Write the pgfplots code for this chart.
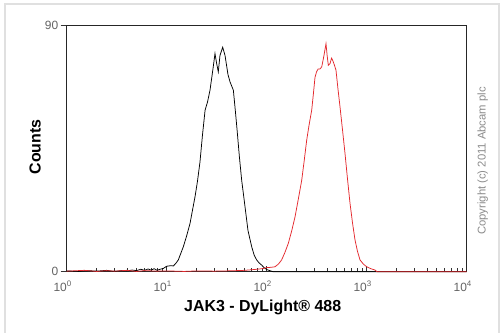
\documentclass[border=0pt]{standalone}
\usepackage{fontspec}
\setmainfont{Liberation Sans}
\usepackage{pgfplots}
\pgfplotsset{compat=1.18}
\definecolor{tickgray}{RGB}{100,100,100}
\definecolor{curvered}{RGB}{228,40,45}
\definecolor{copygray}{RGB}{140,140,140}
\begin{document}
\begin{tikzpicture}[x=1bp,y=1bp]
\fill[white] (0,0) rectangle (504,333);
\draw[black!12, line width=1.5bp] (5,0) -- (5,329) -- (499,329) -- (499,0);
\begin{axis}[
  at={(66.7bp,61.3bp)}, anchor=south west,
  scale only axis, width=400bp, height=246.4bp,
  xmode=log, xmin=1, xmax=10000, ymin=0, ymax=90,
  xtick={1,10,100,1000,10000},
  xticklabels={10\textsuperscript{0},10\textsuperscript{1},10\textsuperscript{2},10\textsuperscript{3},10\textsuperscript{4}},
  ytick={0,90},
  /pgf/number format/assume math mode=true,
  axis line style={line width=1.2bp, black!85},
  xtick pos=bottom, ytick pos=left,
  xtick align=inside, ytick align=outside,
  major tick length=6bp, minor tick length=3.5bp,
  every tick/.style={black!80, line width=0.8bp},
  tick label style={font=\fontsize{12}{12}\selectfont, text=tickgray},
  x tick label style={xshift=-4bp, yshift=-6bp},
  y tick label style={xshift=1bp},
  xlabel={JAK3 - DyLight® 488},
  ylabel={Counts},
  label style={font=\bfseries\fontsize{16}{16}\selectfont},
  xlabel style={at={(axis description cs:0.49,-0.143)}, anchor=center},
  ylabel style={at={(axis description cs:-0.079,0.506)}, anchor=center},
  clip=false,
]
\addplot[black, line width=0.75bp] coordinates {
(1,0.3) (1.3,0.1) (1.6,0.4) (2,0.2) (2.5,0.5) (3,0.1) (3.5,0.4) (4,0.3) (4.5,0.6)
(5,0.4) (5.5,0.9) (6,0.5) (6.5,1.0) (7,0.6) (7.5,1.1) (8,0.5) (8.6,0.9)
(9.25,1.2) (10,2.0) (11,2.2) (11.65,2.1) (12.3,3.0) (13.06,4.3) (14.66,9.1)
(15.8,13) (17.1,17.6) (19.2,27.4) (20.3,33) (21.5,40) (22.8,50) (24.2,59)
(25.6,62) (27.1,66.3) (29.0,74) (30.4,79.7) (31.6,76) (32.8,73) (34.1,79)
(35.2,80.5) (36.3,82) (38.3,79) (41.0,72) (43.0,69.3) (46.4,66.3) (48.5,59)
(50.5,52) (53.3,42) (56.2,33.4) (60.7,23.7) (65.0,15) (70.8,9.1) (75,6)
(79.4,4.3) (84,3.2) (89.1,2.4) (94,1.5) (100,0.8) (107,0.4) (115.6,0)
(10000,0)
};
\addplot[curvered, line width=0.75bp] coordinates {
(1,0.2) (1.5,0.5) (2,0.1) (2.5,0.4) (3,0.2) (4,0.5) (5,0.1) (6,0.4) (8,0.2)
(10,0.3) (15,0.1) (20,0.3) (30,0.2) (40,0.3) (50,0.4) (60,0.5) (70,0.7)
(80,0.9) (90,1.1) (100,1.5) (110,1.6) (121,1.8) (131,2.8) (141,4.3)
(152,7) (164.6,10.4) (178,15) (191.9,20) (207,26.5) (223.9,33.4) (237,40.5)
(251,48) (265,53.5) (281.8,59) (293,65) (304,71) (315,73) (326,74)
(340,74) (354.8,74.8) (374,79) (391.6,83.3) (402,79) (413,75.4) (429.5,76)
(445,78) (457,77.2) (475,75.5) (493,73.6) (515,67) (540.8,60.2) (572,52)
(606.7,43.2) (642,34) (680.8,25) (720,18) (763.9,11.6) (808,7.5) (857,4.3)
(925,2.8) (1000,1.8) (1100,1.1) (1211,0.6) (1268,0) (10000,0)
};
\end{axis}
\node[rotate=90, text=copygray, font=\fontsize{11.3}{11.3}\selectfont] at (482.7,172) {Copyright (c) 2011 Abcam plc};
\pgfresetboundingbox
\useasboundingbox (0,0) rectangle (504,333);
\end{tikzpicture}
\end{document}
